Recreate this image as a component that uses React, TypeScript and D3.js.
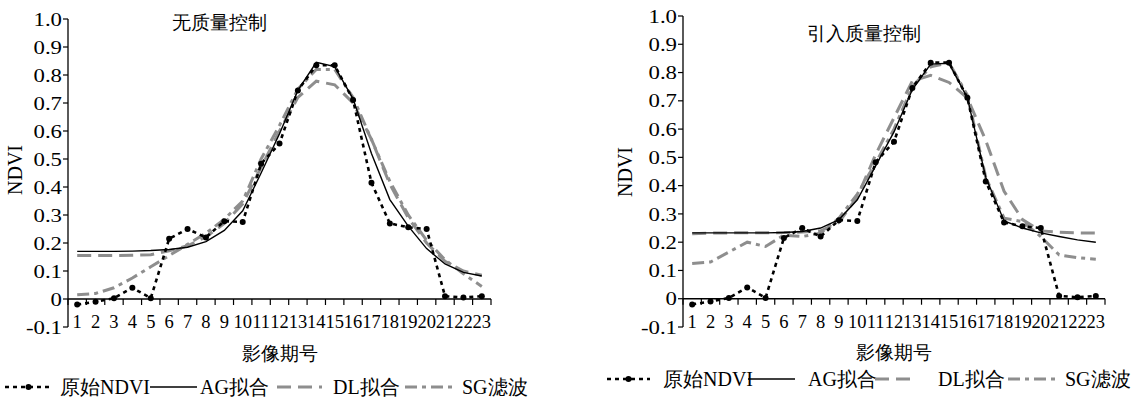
import * as d3 from "d3";

// image period numbers (x axis) and NDVI ticks (y axis)
const periods = [1, 2, 3, 4, 5, 6, 7, 8, 9, 10, 11, 12, 13, 14, 15, 16, 17, 18, 19, 20, 21, 22, 23];
const yTicks = [-0.1, 0, 0.1, 0.2, 0.3, 0.4, 0.5, 0.6, 0.7, 0.8, 0.9, 1.0];

// original NDVI (same in both panels)
const rawNdvi = [-0.02, -0.01, 0.003, 0.04, 0.003, 0.215, 0.25, 0.22, 0.278, 0.275, 0.483, 0.555, 0.745, 0.835, 0.835, 0.711, 0.415, 0.27, 0.256, 0.25, 0.01, 0.005, 0.01];

// without quality control
const agNoQc = [0.17, 0.17, 0.17, 0.171, 0.173, 0.177, 0.185, 0.205, 0.245, 0.315, 0.45, 0.59, 0.745, 0.845, 0.83, 0.715, 0.52, 0.355, 0.26, 0.18, 0.125, 0.095, 0.082];
const dlNoQc = [0.155, 0.155, 0.155, 0.156, 0.158, 0.172, 0.19, 0.222, 0.27, 0.34, 0.47, 0.6, 0.72, 0.778, 0.765, 0.7, 0.57, 0.41, 0.29, 0.2, 0.135, 0.1, 0.085];
const sgNoQc = [0.015, 0.02, 0.04, 0.075, 0.115, 0.155, 0.195, 0.235, 0.285, 0.35, 0.5, 0.62, 0.75, 0.82, 0.82, 0.72, 0.57, 0.42, 0.3, 0.21, 0.14, 0.09, 0.045];

// with quality control
const agQc = [0.233, 0.233, 0.233, 0.233, 0.233, 0.234, 0.238, 0.25, 0.28, 0.35, 0.47, 0.59, 0.74, 0.83, 0.833, 0.71, 0.43, 0.275, 0.25, 0.233, 0.22, 0.208, 0.2];
const dlQc = [0.23, 0.232, 0.233, 0.233, 0.233, 0.234, 0.236, 0.24, 0.27, 0.36, 0.51, 0.64, 0.77, 0.79, 0.765, 0.71, 0.56, 0.38, 0.28, 0.24, 0.235, 0.233, 0.232];
const sgQc = [0.125, 0.13, 0.165, 0.2, 0.185, 0.225, 0.22, 0.232, 0.285, 0.37, 0.48, 0.6, 0.75, 0.82, 0.835, 0.72, 0.43, 0.285, 0.273, 0.22, 0.155, 0.145, 0.14];

const legendNames = ["原始NDVI", "AG拟合", "DL拟合", "SG滤波"];

const FONT = "Liberation Serif";
const GRAY = "#8e8e8e";

const styles = {
  raw: { stroke: "#000", width: 2.6, dash: "4,4" },
  ag: { stroke: "#000", width: 1.4, dash: "none" },
  dl: { stroke: GRAY, width: 3, dash: "14,7" },
  sg: { stroke: GRAY, width: 3, dash: "12,5,4,5" },
};

function Panel({ frame, title, ag, dl, sg }) {
  const x = d3
    .scaleBand()
    .domain(periods.map(String))
    .range([frame.left, frame.right]);
  const y = d3.scaleLinear().domain([-0.1, 1.0]).range([frame.bottom, frame.top]);
  const cx = (i) => x(String(periods[i])) + x.bandwidth() / 2;
  const line = d3
    .line()
    .x((_, i) => cx(i))
    .y((d) => y(d));

  const y0 = y(0);
  const boundaries = periods.map((p) => x(String(p))).concat([frame.right]);
  const lg = frame.legend;

  const series = [
    { key: "sg", data: sg },
    { key: "dl", data: dl },
    { key: "ag", data: ag },
    { key: "raw", data: rawNdvi },
  ];

  return (
    <g style={{ fontFamily: FONT }} fill="#000">
      {/* title */}
      <text x={frame.titleX} y={frame.titleY} fontSize={19} textAnchor="middle">
        {title}
      </text>

      {/* y axis */}
      <line x1={frame.left} x2={frame.left} y1={y(1.0)} y2={y(-0.1)} stroke="#000" strokeWidth={1.3} />
      {yTicks.map((t) => (
        <g key={t}>
          <line x1={frame.left - 5} x2={frame.left} y1={y(t)} y2={y(t)} stroke="#000" strokeWidth={1.2} />
          <text
            transform={`translate(${frame.left - 6},${y(t)}) scale(1.2,1)`}
            dy="0.35em"
            fontSize={19}
            textAnchor="end"
          >
            {t === 0 ? "0" : t.toFixed(1)}
          </text>
        </g>
      ))}
      <text
        transform={`translate(${frame.ndviX},${frame.ndviY}) rotate(-90)`}
        fontSize={20}
        textAnchor="middle"
        dy="0.35em"
      >
        NDVI
      </text>

      {/* x axis at zero */}
      <line x1={frame.left} x2={frame.right} y1={y0} y2={y0} stroke="#000" strokeWidth={1.3} />
      {boundaries.map((bx, i) => (
        <line key={i} x1={bx} x2={bx} y1={y0} y2={y0 + 6} stroke="#000" strokeWidth={1.2} />
      ))}
      {periods.map((p, i) => (
        <text key={p} x={cx(i)} y={y(-0.1) + 1} fontSize={18.5} textAnchor="middle">
          {p}
        </text>
      ))}
      <text x={(frame.left + frame.right) / 2} y={frame.xLabelY} fontSize={19} textAnchor="middle">
        影像期号
      </text>

      {/* series */}
      {series.map((s) => (
        <path
          key={s.key}
          d={line(s.data)}
          fill="none"
          stroke={styles[s.key].stroke}
          strokeWidth={styles[s.key].width}
          strokeDasharray={styles[s.key].dash}
        />
      ))}
      {rawNdvi.map((v, i) => (
        <circle key={i} cx={cx(i)} cy={y(v)} r={3} fill="#000" />
      ))}

      {/* legend */}
      {["raw", "ag", "dl", "sg"].map((k, i) => (
        <g key={k}>
          <line
            x1={lg.lines[i][0]}
            x2={lg.lines[i][1]}
            y1={lg.y - 4}
            y2={lg.y - 4}
            stroke={styles[k].stroke}
            strokeWidth={styles[k].width}
            strokeDasharray={styles[k].dash}
          />
          {k === "raw" && (
            <circle cx={(lg.lines[i][0] + lg.lines[i][1]) / 2} cy={lg.y - 4} r={3} fill="#000" />
          )}
          <text x={lg.texts[i]} y={lg.y + 3} fontSize={20}>
            {legendNames[i]}
          </text>
        </g>
      ))}
    </g>
  );
}

const leftFrame = {
  left: 68,
  right: 491,
  top: 19,
  bottom: 327,
  titleX: 219,
  titleY: 29,
  ndviX: 15,
  ndviY: 170,
  xLabelY: 360,
  legend: {
    y: 391,
    lines: [[5, 52], [150, 197], [277, 322], [405, 452]],
    texts: [60, 200, 333, 462],
  },
};

const rightFrame = {
  left: 683,
  right: 1105,
  top: 16,
  bottom: 327,
  titleX: 864,
  titleY: 40,
  ndviX: 625,
  ndviY: 172,
  xLabelY: 359,
  legend: {
    y: 383,
    lines: [[607, 650], [748, 795], [875, 917], [1008, 1055]],
    texts: [663, 808, 938, 1065],
  },
};

export default function App() {
  return (
    <svg
      width={1144}
      height={400}
      style={{ position: "absolute", left: 0, top: 0, background: "#fff" }}
    >
      <Panel frame={leftFrame} title="无质量控制" ag={agNoQc} dl={dlNoQc} sg={sgNoQc} />
      <Panel frame={rightFrame} title="引入质量控制" ag={agQc} dl={dlQc} sg={sgQc} />
    </svg>
  );
}
